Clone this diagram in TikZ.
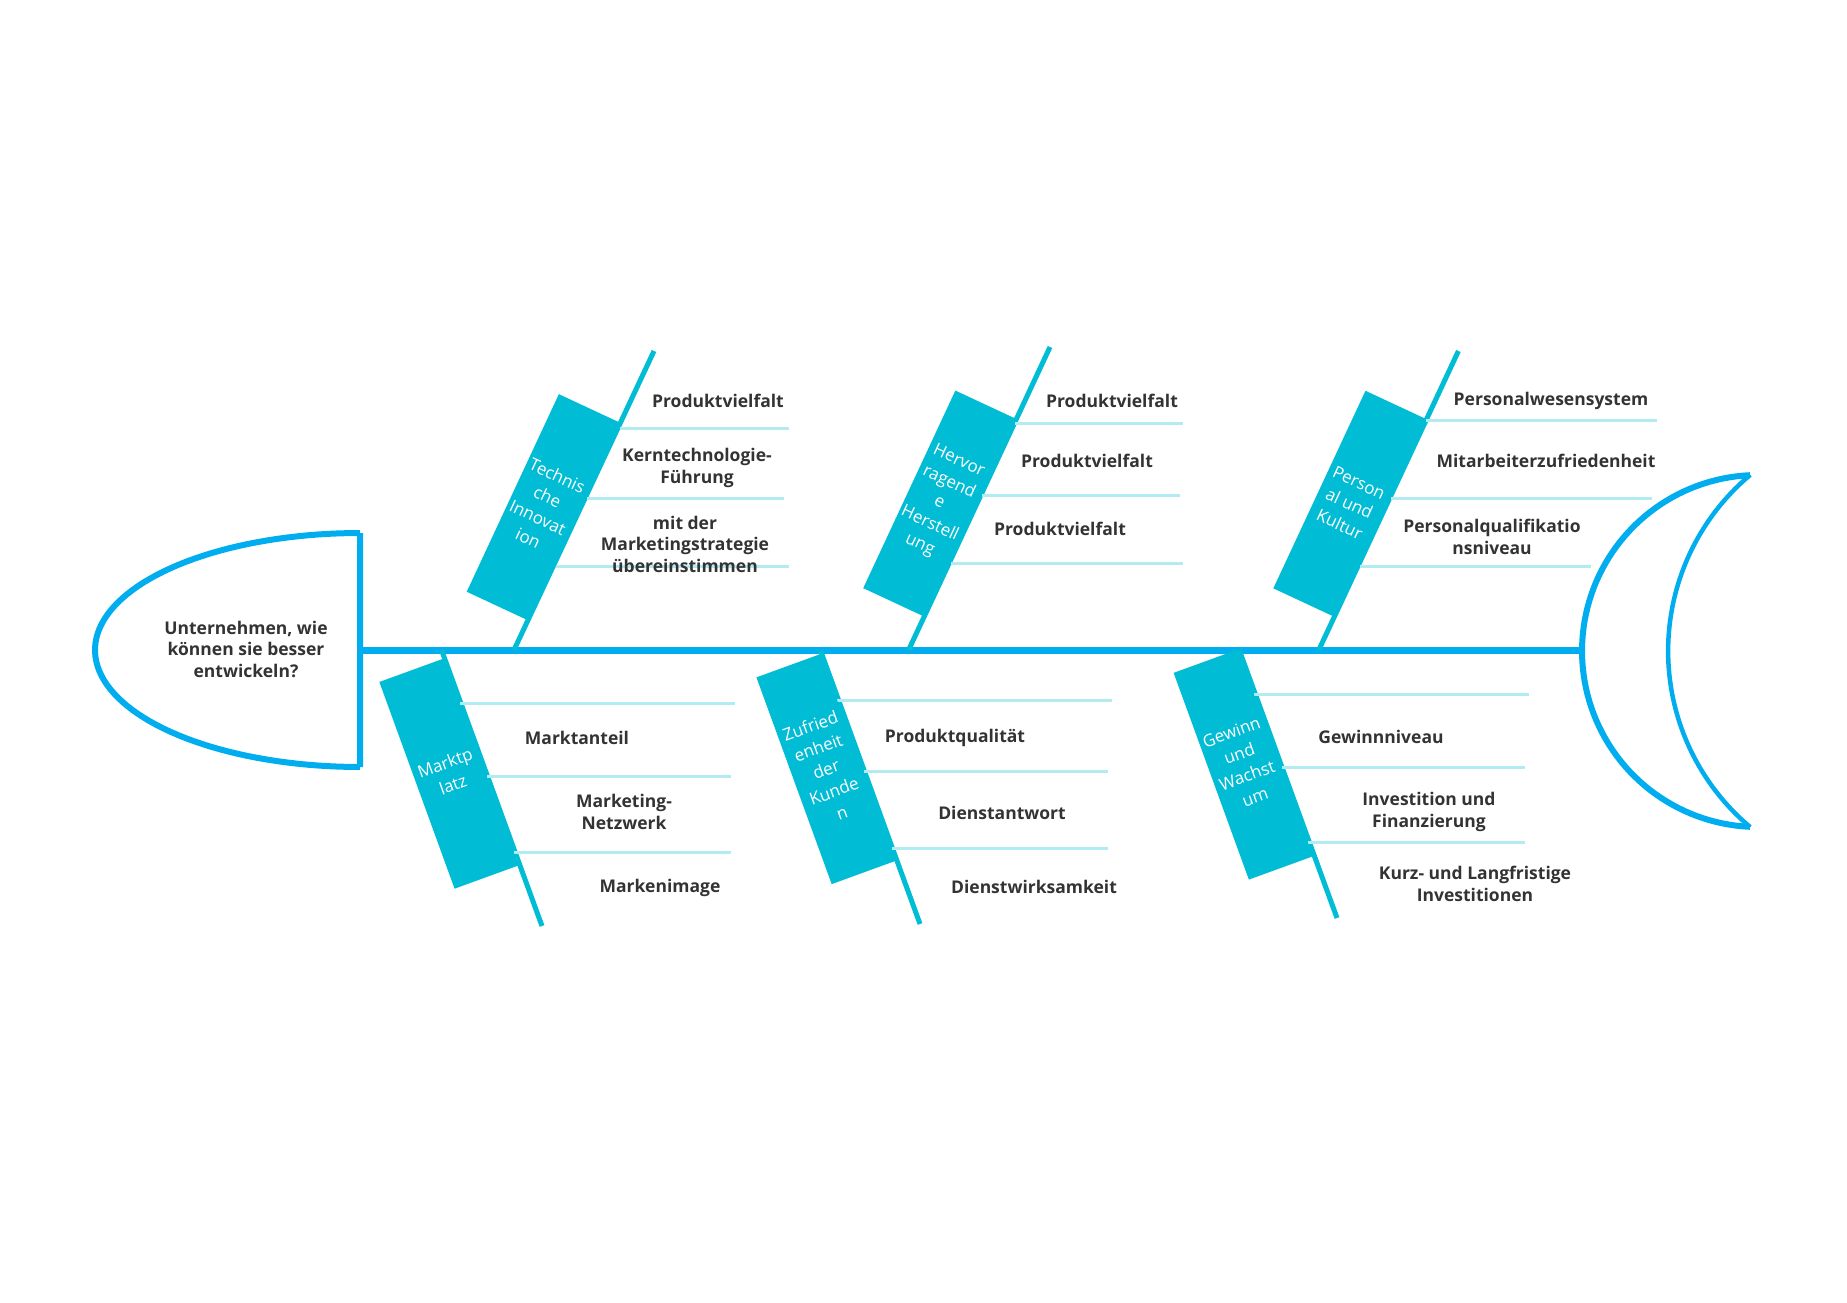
\documentclass[tikz,border=0pt]{standalone}
\usepackage{fontspec}
\setmainfont{Open Sans}
\definecolor{spineblue}{RGB}{0,174,239}
\definecolor{bonecyan}{RGB}{0,188,212}
\definecolor{lightline}{RGB}{178,235,242}
\definecolor{txt}{RGB}{51,51,51}
\begin{document}
\begin{tikzpicture}[x=1pt,y=-1pt,
  spine/.style={draw=spineblue, line width=7pt},
  outline/.style={draw=spineblue, line width=6pt, line join=miter},
  bone/.style={draw=bonecyan, line width=5pt},
  twig/.style={draw=lightline, line width=3pt},
  catbox/.style={fill=bonecyan, inner sep=0pt, text=white, align=center,
    font=\fontsize{17}{23}\selectfont},
  upbox/.style={catbox, rotate=-25, minimum width=66pt, minimum height=218pt},
  lowbox/.style={catbox, rotate=20, minimum width=68pt, minimum height=220pt},
  cause/.style={text=txt, font=\bfseries\fontsize{17.5}{21.5}\selectfont, align=center, inner sep=0pt},
]
\useasboundingbox (0,0) rectangle (1847,1303);

% head
\coordinate (headT) at (360,533);
\coordinate (headB) at (360,767);
\coordinate (headR) at (360,650);
\draw[outline] plot[domain=90:270, samples=80] ({360+265*cos(\x)},{650+117*sin(\x)}) -- (headT) -- (headB);
\node[cause] (head) at (246,649) {Unternehmen, wie\\können sie besser\\entwickeln?};

% tail
\coordinate (tailL) at (1582,650);
\draw[outline] plot[domain=92.6:267.4, samples=80] ({1758+176*cos(\x)},{651+176*sin(\x)});
\draw[draw=spineblue, line width=4.5pt] plot[domain=130:230, samples=80] ({1898+229.9*cos(\x)},{651+229.9*sin(\x)});

% spine
\draw[spine] (headR) -- (tailL);

% ---------- upper bone 1
\coordinate (b1s) at (514,650); \coordinate (b1e) at (654,351);
\draw[bone] (b1s) -- (b1e);
\coordinate (t11a) at (620,428); \coordinate (t11b) at (789,428);
\coordinate (t12a) at (587,498); \coordinate (t12b) at (784,498);
\coordinate (t13a) at (556,566); \coordinate (t13b) at (789,566);
\draw[twig] (t11a) -- (t11b); \draw[twig] (t12a) -- (t12b); \draw[twig] (t13a) -- (t13b);
\node[upbox] (c1) at (542.7,506.9) {Technis\\che\\Innovat\\ion};
\node[cause] (l11) at (718,401) {Produktvielfalt};
\node[cause] (l12) at (697,468) {Kerntechnologie-\\Führung};
\node[cause] (l13) at (685,544) {mit der\\Marketingstrategie\\übereinstimmen};

% ---------- upper bone 2
\coordinate (b2s) at (908.6,650); \coordinate (b2e) at (1050,347);
\draw[bone] (b2s) -- (b2e);
\coordinate (t21a) at (1015,423); \coordinate (t21b) at (1183,423);
\coordinate (t22a) at (982,495); \coordinate (t22b) at (1180,495);
\coordinate (t23a) at (951,563); \coordinate (t23b) at (1183,563);
\draw[twig] (t21a) -- (t21b); \draw[twig] (t22a) -- (t22b); \draw[twig] (t23a) -- (t23b);
\node[upbox] (c2) at (939.2,503.3) {Hervor\\ragend\\e\\Herstell\\ung};
\node[cause] (l21) at (1112,401) {Produktvielfalt};
\node[cause] (l22) at (1087,461) {Produktvielfalt};
\node[cause] (l23) at (1060,529) {Produktvielfalt};

% ---------- upper bone 3
\coordinate (b3s) at (1318.8,650); \coordinate (b3e) at (1458.4,351);
\draw[bone] (b3s) -- (b3e);
\coordinate (t31a) at (1426,420); \coordinate (t31b) at (1657,420);
\coordinate (t32a) at (1391,498); \coordinate (t32b) at (1652,498);
\coordinate (t33a) at (1360,566); \coordinate (t33b) at (1591,566);
\draw[twig] (t31a) -- (t31b); \draw[twig] (t32a) -- (t32b); \draw[twig] (t33a) -- (t33b);
\node[upbox] (c3) at (1349.3,503.5) {Person\\al und\\Kultur};
\node[cause] (l31) at (1551,401) {Personalwesensystem};
\node[cause] (l32) at (1546,461) {Mitarbeiterzufriedenheit};
\node[cause] (l33) at (1492,537) {Personalqualifikatio\\nsniveau};

% ---------- lower bone 1
\coordinate (b4s) at (441.5,650); \coordinate (b4e) at (542,926);
\draw[bone] (b4s) -- (b4e);
\coordinate (t41a) at (460,703); \coordinate (t41b) at (735,703);
\coordinate (t42a) at (487,776); \coordinate (t42b) at (731,776);
\coordinate (t43a) at (514,852); \coordinate (t43b) at (731,852);
\draw[twig] (t41a) -- (t41b); \draw[twig] (t42a) -- (t42b); \draw[twig] (t43a) -- (t43b);
\node[lowbox] (c4) at (448.9,773.7) {Marktp\\latz};
\node[cause] (l41) at (577,738) {Marktanteil};
\node[cause] (l42) at (624,812) {Marketing-\\Netzwerk};
\node[cause] (l43) at (660,888) {Markenimage};

% ---------- lower bone 2
\coordinate (b5s) at (820.3,650); \coordinate (b5e) at (920,924);
\draw[bone] (b5s) -- (b5e);
\coordinate (t51a) at (837,700); \coordinate (t51b) at (1112,700);
\coordinate (t52a) at (864,771); \coordinate (t52b) at (1108,771);
\coordinate (t53a) at (892,848); \coordinate (t53b) at (1108,848);
\draw[twig] (t51a) -- (t51b); \draw[twig] (t52a) -- (t52b); \draw[twig] (t53a) -- (t53b);
\node[lowbox] (c5) at (826,769.1) {Zufried\\enheit\\der\\Kunde\\n};
\node[cause] (l51) at (955,738) {Produktqualität};
\node[cause] (l52) at (1002,813) {Dienstantwort};
\node[cause] (l53) at (1034,887) {Dienstwirksamkeit};

% ---------- lower bone 3
\coordinate (b6s) at (1239.2,650); \coordinate (b6e) at (1337,918);
\draw[bone] (b6s) -- (b6e);
\coordinate (t61a) at (1254,694); \coordinate (t61b) at (1529,694);
\coordinate (t62a) at (1282,767); \coordinate (t62b) at (1525,767);
\coordinate (t63a) at (1308,842); \coordinate (t63b) at (1525,842);
\draw[twig] (t61a) -- (t61b); \draw[twig] (t62a) -- (t62b); \draw[twig] (t63a) -- (t63b);
\node[lowbox] (c6) at (1243.2,764.6) {Gewinn\\und\\Wachst\\um};
\node[cause] (l61) at (1381,737) {Gewinnniveau};
\node[cause] (l62) at (1429,812) {Investition und\\Finanzierung};
\node[cause] (l63) at (1475,884) {Kurz- und Langfristige\\Investitionen};
\end{tikzpicture}
\end{document}
